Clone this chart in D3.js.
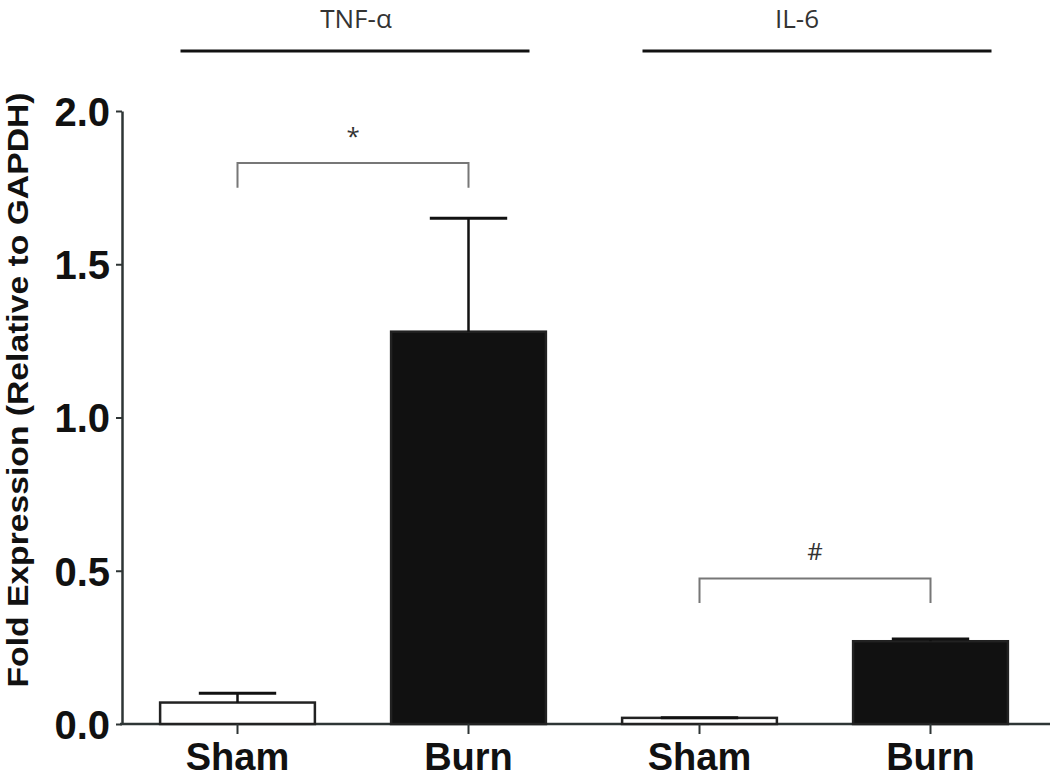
<!DOCTYPE html>
<html>
<head>
<meta charset="utf-8">
<script src="https://cdn.jsdelivr.net/npm/d3@7"></script>
<style>
  body { margin: 0; background: #fff; }
  svg { display: block; font-family: "Liberation Sans", Arial, sans-serif; }
</style>
</head>
<body>
<div id="chart"></div>
<script>
// data
var categories = ["Sham", "Burn", "Sham", "Burn"];
var fills = ["#fff", "#111", "#fff", "#111"];
var means = [0.07, 1.28, 0.02, 0.27];
var errors = [0.03, 0.37, 0.0, 0.007];
var groups = ["TNF-α", "IL-6"];
var groupMembers = [[0, 1], [2, 3]];
var yTicks = [0, 0.5, 1.0, 1.5, 2.0];
// significance brackets: bar indices, top value, drop value
var brackets = [
  { a: 0, b: 1, top: 1.83, bottom: 1.75, mark: "*" },
  { a: 2, b: 3, top: 0.475, bottom: 0.395, mark: "#" }
];

var W = 1050, H = 779;
var svg = d3.select("#chart").append("svg")
    .attr("width", W)
    .attr("height", H);

var y = d3.scaleLinear().domain([0, 2]).range([724, 111]);
var x = d3.scalePoint().domain(d3.range(categories.length)).range([122, 1046]).padding(0.5);
var barW = x.step() * 0.67;

// y axis
var yAxis = svg.append("g")
    .attr("transform", "translate(122,0)")
    .call(d3.axisLeft(y).tickValues(yTicks).tickFormat(d3.format(".1f")).tickSize(6).tickSizeOuter(0));
yAxis.select(".domain").attr("stroke", "#2e3535").attr("stroke-width", 2.5);
yAxis.selectAll(".tick line").attr("stroke", "#2e3535").attr("stroke-width", 2);
yAxis.selectAll(".tick text")
    .attr("x", -12)
    .attr("dy", "0.36em")
    .style("font-size", "40px")
    .style("font-weight", "bold")
    .style("fill", "#111");

// x axis line across full width
svg.append("line")
    .attr("x1", 120).attr("x2", W)
    .attr("y1", y(0)).attr("y2", y(0))
    .attr("stroke", "#2e3535").attr("stroke-width", 2.5);

// bars
svg.append("g").selectAll("rect")
    .data(means)
    .enter().append("rect")
    .attr("x", function(d, i) { return x(i) - barW / 2; })
    .attr("y", function(d) { return y(d); })
    .attr("width", barW)
    .attr("height", function(d) { return y(0) - y(d); })
    .style("fill", function(d, i) { return fills[i]; })
    .style("stroke", "#222")
    .style("stroke-width", 2.5);

// error bars
var eb = svg.append("g").selectAll("g")
    .data(means)
    .enter().append("g");
eb.append("line")
    .attr("x1", function(d, i) { return x(i); })
    .attr("x2", function(d, i) { return x(i); })
    .attr("y1", function(d) { return y(d); })
    .attr("y2", function(d, i) { return y(d + errors[i]); })
    .attr("stroke", "#111").attr("stroke-width", 2.5);
eb.append("line")
    .attr("x1", function(d, i) { return x(i) - barW / 4; })
    .attr("x2", function(d, i) { return x(i) + barW / 4; })
    .attr("y1", function(d, i) { return y(d + errors[i]); })
    .attr("y2", function(d, i) { return y(d + errors[i]); })
    .attr("stroke", "#111").attr("stroke-width", 3);

// x ticks + labels
svg.append("g").selectAll("line")
    .data(categories)
    .enter().append("line")
    .attr("x1", function(d, i) { return x(i); })
    .attr("x2", function(d, i) { return x(i); })
    .attr("y1", y(0))
    .attr("y2", y(0) + 10)
    .attr("stroke", "#2e3535").attr("stroke-width", 2);
svg.append("g").selectAll("text")
    .data(categories)
    .enter().append("text")
    .attr("x", function(d, i) { return x(i); })
    .attr("y", 770)
    .attr("text-anchor", "middle")
    .style("font-size", "38px")
    .style("font-weight", "bold")
    .style("fill", "#111")
    .text(function(d) { return d; });

// y axis title
svg.append("text")
    .attr("transform", "translate(28,390) rotate(-90)")
    .attr("text-anchor", "middle")
    .attr("textLength", 595)
    .attr("lengthAdjust", "spacingAndGlyphs")
    .style("font-size", "30px")
    .style("font-weight", "bold")
    .style("fill", "#111")
    .text("Fold Expression (Relative to GAPDH)");

// group headers
var gh = svg.append("g").selectAll("g")
    .data(groups)
    .enter().append("g");
gh.append("line")
    .attr("x1", function(d, i) { return x(groupMembers[i][0]) - 57; })
    .attr("x2", function(d, i) { return x(groupMembers[i][1]) + 61; })
    .attr("y1", 51).attr("y2", 51)
    .attr("stroke", "#111").attr("stroke-width", 3);
gh.append("text")
    .attr("x", function(d, i) { return i === 0 ? (x(groupMembers[i][0]) + x(groupMembers[i][1])) / 2 + 3 : (x(groupMembers[i][0]) + x(groupMembers[i][1])) / 2 - 18; })
    .attr("y", 28)
    .attr("text-anchor", "middle")
    .style("font-family", "'Open Sans', sans-serif")
    .style("font-size", "26px")
    .style("fill", "#333")
    .text(function(d) { return d; });

// significance brackets
var br = svg.append("g").selectAll("g")
    .data(brackets)
    .enter().append("g");
br.append("path")
    .attr("d", function(d) {
        return "M" + x(d.a) + "," + y(d.bottom) +
               "V" + y(d.top) + "H" + x(d.b) + "V" + y(d.bottom);
    })
    .attr("fill", "none")
    .attr("stroke", "#777").attr("stroke-width", 2);
br.append("text")
    .attr("x", function(d) { return (x(d.a) + x(d.b)) / 2; })
    .attr("y", function(d) { return y(d.top) - 18; })
    .attr("text-anchor", "middle")
    .style("font-family", "'Open Sans', sans-serif")
    .style("font-size", "24px")
    .style("fill", "#333")
    .text(function(d) { return d.mark; });
</script>
</body>
</html>
